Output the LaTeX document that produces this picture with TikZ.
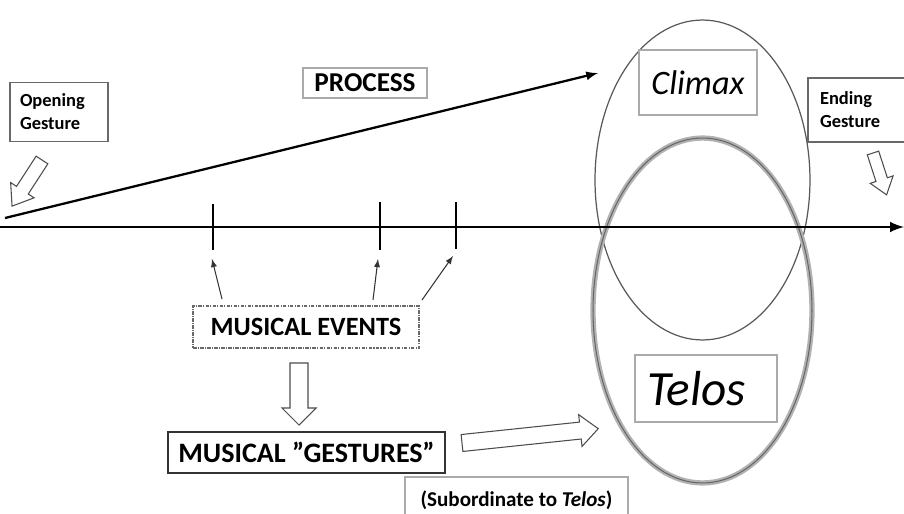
\documentclass[tikz,border=0pt]{standalone}
\usepackage{fontspec}
\setmainfont{Carlito}
\usetikzlibrary{positioning}
\tikzstyle{diagram} = [x = 0.02cm, y = -0.02cm]
\definecolor{boxColor}{RGB}{105,105,105}
\definecolor{lightBoxColor}{RGB}{170,170,170}
\tikzstyle{labelBox} = [draw=boxColor, fill=white, inner sep=0pt, line width=0.6pt]
\tikzstyle{timeLine} = [black, line width=1.7pt, -latex]
\tikzstyle{processLine} = [black, line width=1.3pt, -latex]
\tikzstyle{tickLine} = [black, line width=1.6pt]
\tikzstyle{pointerArrow} = [black!80, line width=0.6pt, -latex]
\tikzstyle{hollowArrowStyle} = [draw=black!70, fill=white, line width=0.6pt, line join=miter]
\tikzstyle{climaxEllipse} = [draw=black!65, line width=0.7pt]
\tikzstyle{telosShadow} = [draw=black!30, line width=3pt]
\tikzstyle{telosEllipse} = [draw=black!60, line width=0.6pt]
\newcommand{\hollowArrow}[7]{\filldraw [hollowArrowStyle, shift={(#1,#2)}, rotate=#3] (0,-#5) -- (#4-#7,-#5) -- (#4-#7,-#6) -- (#4,0) -- (#4-#7,#6) -- (#4-#7,#5) -- (0,#5) -- cycle;}

\begin{document}
\begin{tikzpicture}[diagram]
  \useasboundingbox (0,0) rectangle (904,514);

  \draw [climaxEllipse] (702.5,180) ellipse [x radius=2.15cm, y radius=3.2cm];
  \draw [telosShadow] (702.5,310.5) ellipse [x radius=2.19cm, y radius=3.45cm];
  \draw [telosEllipse] (702.5,310.5) ellipse [x radius=2.19cm, y radius=3.45cm];

  \coordinate (lineStart) at (0,227);
  \coordinate (lineEnd) at (904,227);
  \coordinate (processStart) at (5,218);
  \coordinate (processEnd) at (598,73);
  \draw [timeLine] (lineStart) -- (lineEnd);
  \draw [processLine] (processStart) -- (processEnd);

  \draw [tickLine] (213,204) -- (213,250);
  \draw [tickLine] (380,202) -- (380,250);
  \draw [tickLine] (456,202) -- (456,249);

  \node [labelBox, inner xsep=0.2cm, text width=1.56cm, minimum height=1.18cm, align=left, font=\bfseries\fontsize{10.5}{13}\selectfont] (openingBox) at (59,112) {Opening\\Gesture};
  \node [labelBox, minimum width=2.48cm, minimum height=0.6cm, draw=lightBoxColor, font=\bfseries\fontsize{15.5}{17}\selectfont] (processBox) at (365,83) {PROCESS};
  \node [labelBox, minimum width=2.36cm, minimum height=1.3cm, draw=lightBoxColor, font=\itshape\fontsize{19.5}{22}\selectfont] (climaxBox) at (698,82.5) {Climax};
  \node [labelBox, inner xsep=0.24cm, text width=1.5cm, minimum height=1.28cm, align=left, fill=none, font=\bfseries\fontsize{10.5}{13}\selectfont] (endingBox) at (857.5,110) {Ending\\Gesture};
  \node [labelBox, inner xsep=0.24cm, text width=2.36cm, minimum height=1.34cm, align=left, draw=lightBoxColor, font=\itshape\fontsize{28}{32}\selectfont] (telosBox) at (706,388.5) {Telos};
  \node [labelBox, minimum width=4.52cm, minimum height=0.84cm, dash pattern=on 2pt off 0.7pt on 0.6pt off 0.7pt, font=\bfseries\fontsize{15}{17}\selectfont] (eventsBox) at (306,327) {MUSICAL EVENTS};
  \node [labelBox, minimum width=5.54cm, minimum height=0.82cm, draw=black!80, line width=1.1pt, font=\bfseries\fontsize{16}{18}\selectfont] (gesturesBox) at (306.5,452.5) {MUSICAL ”GESTURES”};
  \node [labelBox, minimum width=4.46cm, minimum height=0.92cm, draw=lightBoxColor, font=\bfseries\fontsize{12}{14}\selectfont] (subordinateBox) at (516.5,500) {(Subordinate to \textit{Telos})};

  \coordinate (eventsA) at (222,299);
  \coordinate (eventsB) at (373,300);
  \coordinate (eventsC) at (422,300);
  \coordinate (tickAFoot) at (212,259);
  \coordinate (tickBFoot) at (378,259);
  \coordinate (tickCFoot) at (453,256);
  \draw [pointerArrow] (eventsA) -- (tickAFoot);
  \draw [pointerArrow] (eventsB) -- (tickBFoot);
  \draw [pointerArrow] (eventsC) -- (tickCFoot);

  \hollowArrow{42}{160}{237}{55}{7}{14}{19}
  \hollowArrow{873}{153}{288}{44}{6}{12}{16}
  \hollowArrow{299}{363}{270}{62}{9}{17}{17}
  \hollowArrow{462}{443}{6}{137}{8.5}{16}{18}
\end{tikzpicture}
\end{document}
